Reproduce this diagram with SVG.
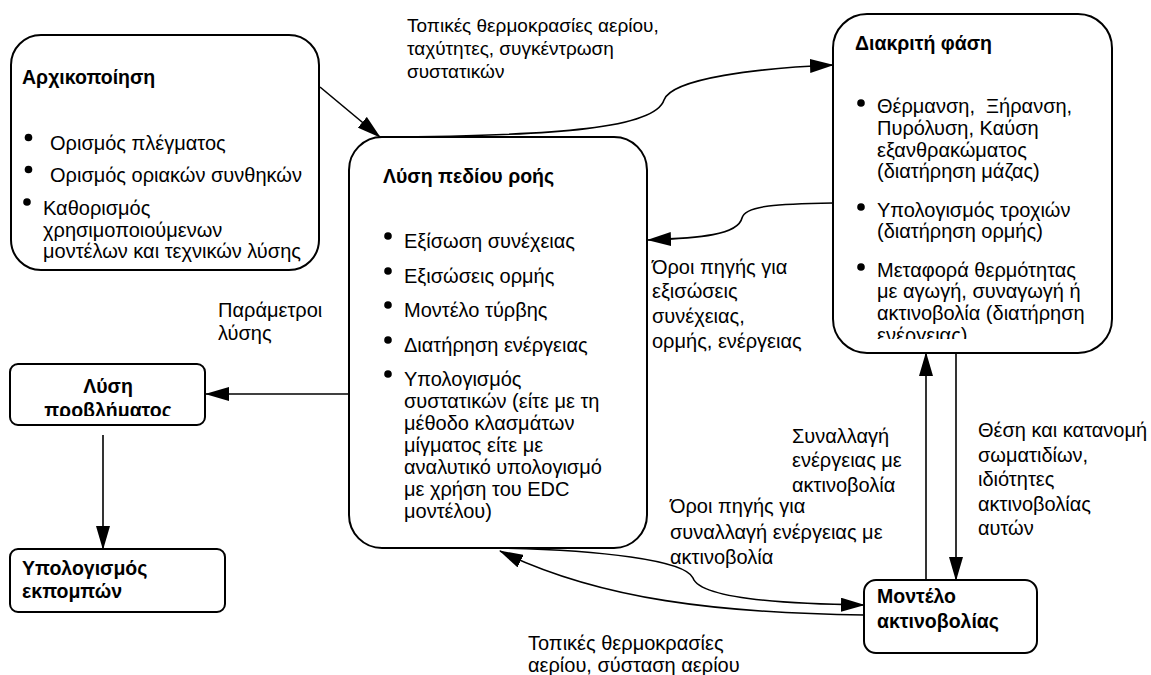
<svg xmlns="http://www.w3.org/2000/svg" width="1151" height="675" viewBox="0 0 1151 675">
<style>
text{font-family:"Liberation Sans",Arial,sans-serif;font-size:20px;fill:#000}
.b{font-weight:bold;font-size:19.5px}
.s{font-size:19px}
.box{fill:#fff;stroke:#000;stroke-width:2}
.c{fill:none;stroke:#000;stroke-width:1.6}
.bul{fill:#000}
</style>
<defs>
<marker id="arr" viewBox="0 0 24 14" refX="23" refY="7" markerWidth="24" markerHeight="14" markerUnits="userSpaceOnUse" orient="auto"><path d="M0,0 L24,7 L0,14 z" fill="#000"/></marker>
<clipPath id="clip2"><rect x="349" y="137" width="298" height="385"/></clipPath>
<clipPath id="clip3"><rect x="833" y="14" width="279" height="325"/></clipPath>
<clipPath id="clip4"><rect x="10" y="364" width="195" height="52"/></clipPath>
</defs>
<rect width="1151" height="675" fill="#fff"/>

<g id="n-init">
<rect class="box" x="11" y="35" width="308" height="235" rx="30"/>
<text class="b" x="22" y="84">Αρχικοποίηση</text>
<circle class="bul" cx="28.5" cy="137.5" r="3.8"/>
<text x="50" y="150">Ορισμός πλέγματος</text>
<circle class="bul" cx="28.5" cy="169.5" r="3.8"/>
<text x="50" y="182">Ορισμός οριακών συνθηκών</text>
<circle class="bul" cx="27" cy="202" r="3.8"/>
<text x="43" y="215">Καθορισμός</text>
<text x="43" y="237">χρησιμοποιούμενων</text>
<text x="43" y="258">μοντέλων και τεχνικών λύσης</text>
</g>

<g id="n-flow">
<rect class="box" x="349" y="137" width="298" height="411" rx="33"/>
<text class="b" x="383" y="183">Λύση πεδίου ροής</text>
<g clip-path="url(#clip2)">
<circle class="bul" cx="388" cy="236" r="3.8"/>
<text x="404" y="248">Εξίσωση συνέχειας</text>
<circle class="bul" cx="388" cy="271" r="3.8"/>
<text x="404" y="283">Εξισώσεις ορμής</text>
<circle class="bul" cx="388" cy="305" r="3.8"/>
<text x="404" y="317">Μοντέλο τύρβης</text>
<circle class="bul" cx="388" cy="340" r="3.8"/>
<text x="404" y="352">Διατήρηση ενέργειας</text>
<circle class="bul" cx="388" cy="374" r="3.8"/>
<text x="404" y="386">Υπολογισμός</text>
<text x="404" y="408">συστατικών (είτε με τη</text>
<text x="404" y="430">μέθοδο κλασμάτων</text>
<text x="404" y="452">μίγματος είτε με</text>
<text x="404" y="474">αναλυτικό υπολογισμό</text>
<text x="404" y="496">με χρήση του EDC</text>
<text x="404" y="518">μοντέλου)</text>
</g>
</g>

<g id="n-discrete">
<rect class="box" x="833" y="14" width="279" height="339" rx="34"/>
<text class="b" x="855" y="50">Διακριτή φάση</text>
<g clip-path="url(#clip3)">
<circle class="bul" cx="861" cy="103" r="3.8"/>
<text x="877" y="113">Θέρμανση,&#160; Ξήρανση,</text>
<text x="877" y="135">Πυρόλυση, Καύση</text>
<text x="877" y="157">εξανθρακώματος</text>
<text x="877" y="178">(διατήρηση μάζας)</text>
<circle class="bul" cx="861" cy="207" r="3.8"/>
<text x="877" y="217">Υπολογισμός τροχιών</text>
<text x="877" y="238">(διατήρηση ορμής)</text>
<circle class="bul" cx="861" cy="267" r="3.8"/>
<text x="877" y="277">Μεταφορά θερμότητας</text>
<text x="877" y="298">με αγωγή, συναγωγή ή</text>
<text x="877" y="320">ακτινοβολία (διατήρηση</text>
<text x="877" y="342">ενέργειας)</text>
</g>
</g>

<g id="n-solve">
<rect class="box" x="10" y="364" width="195" height="61" rx="8"/>
<g clip-path="url(#clip4)">
<text class="b" x="108" y="393" text-anchor="middle">Λύση</text>
<text class="b" x="108" y="417" text-anchor="middle">προβλήματος</text>
</g>
</g>

<g id="n-emis">
<rect class="box" x="10" y="549" width="215" height="63" rx="8"/>
<text class="b" x="22" y="575">Υπολογισμός</text>
<text class="b" x="22" y="598">εκπομπών</text>
</g>

<g id="n-rad">
<rect class="box" x="864" y="580" width="173" height="73" rx="12"/>
<text class="b" x="877" y="603">Μοντέλο</text>
<text class="b" x="877" y="628">ακτινοβολίας</text>
</g>

<g id="connectors">
<path class="c" d="M320,87 L380,137" marker-end="url(#arr)"/>
<path class="c" d="M380,137 C560,136 655,128 664,100 C672,78 760,68 833,65" marker-end="url(#arr)"/>
<path class="c" d="M833,203 C780,204 745,205 742,218 C738,235 700,238 648,240" marker-end="url(#arr)"/>
<path class="c" d="M349,394 L206,394" marker-end="url(#arr)"/>
<path class="c" d="M103,435 L103,549" marker-end="url(#arr)"/>
<path class="c" d="M498,548 C600,550 685,560 693,578 C700,598 780,604 864,605" marker-end="url(#arr)"/>
<path class="c" d="M864,615 C720,613 600,600 500,551" marker-end="url(#arr)"/>
<path class="c" d="M926,580 L926,353" marker-end="url(#arr)"/>
<path class="c" d="M956,353 L956,580" marker-end="url(#arr)"/>
</g>

<g id="labels">
<text class="s" x="407" y="32">Τοπικές θερμοκρασίες αερίου,</text>
<text class="s" x="407" y="55">ταχύτητες, συγκέντρωση</text>
<text class="s" x="407" y="78">συστατικών</text>
<text x="652" y="274">Όροι πηγής για</text>
<text x="652" y="298">εξισώσεις</text>
<text x="652" y="323">συνέχειας,</text>
<text x="652" y="348">ορμής, ενέργειας</text>
<text x="218" y="317">Παράμετροι</text>
<text x="218" y="340">λύσης</text>
<text x="792" y="443">Συναλλαγή</text>
<text x="792" y="467">ενέργειας με</text>
<text x="792" y="492">ακτινοβολία</text>
<text x="670" y="513">Όροι πηγής για</text>
<text x="670" y="539">συναλλαγή ενέργειας με</text>
<text x="670" y="564">ακτινοβολία</text>
<text x="978" y="437">Θέση και κατανομή</text>
<text x="978" y="462">σωματιδίων,</text>
<text x="978" y="486">ιδιότητες</text>
<text x="978" y="511">ακτινοβολίας</text>
<text x="978" y="535">αυτών</text>
<text x="528" y="650">Τοπικές θερμοκρασίες</text>
<text x="528" y="672">αερίου, σύσταση αερίου</text>
</g>
</svg>
